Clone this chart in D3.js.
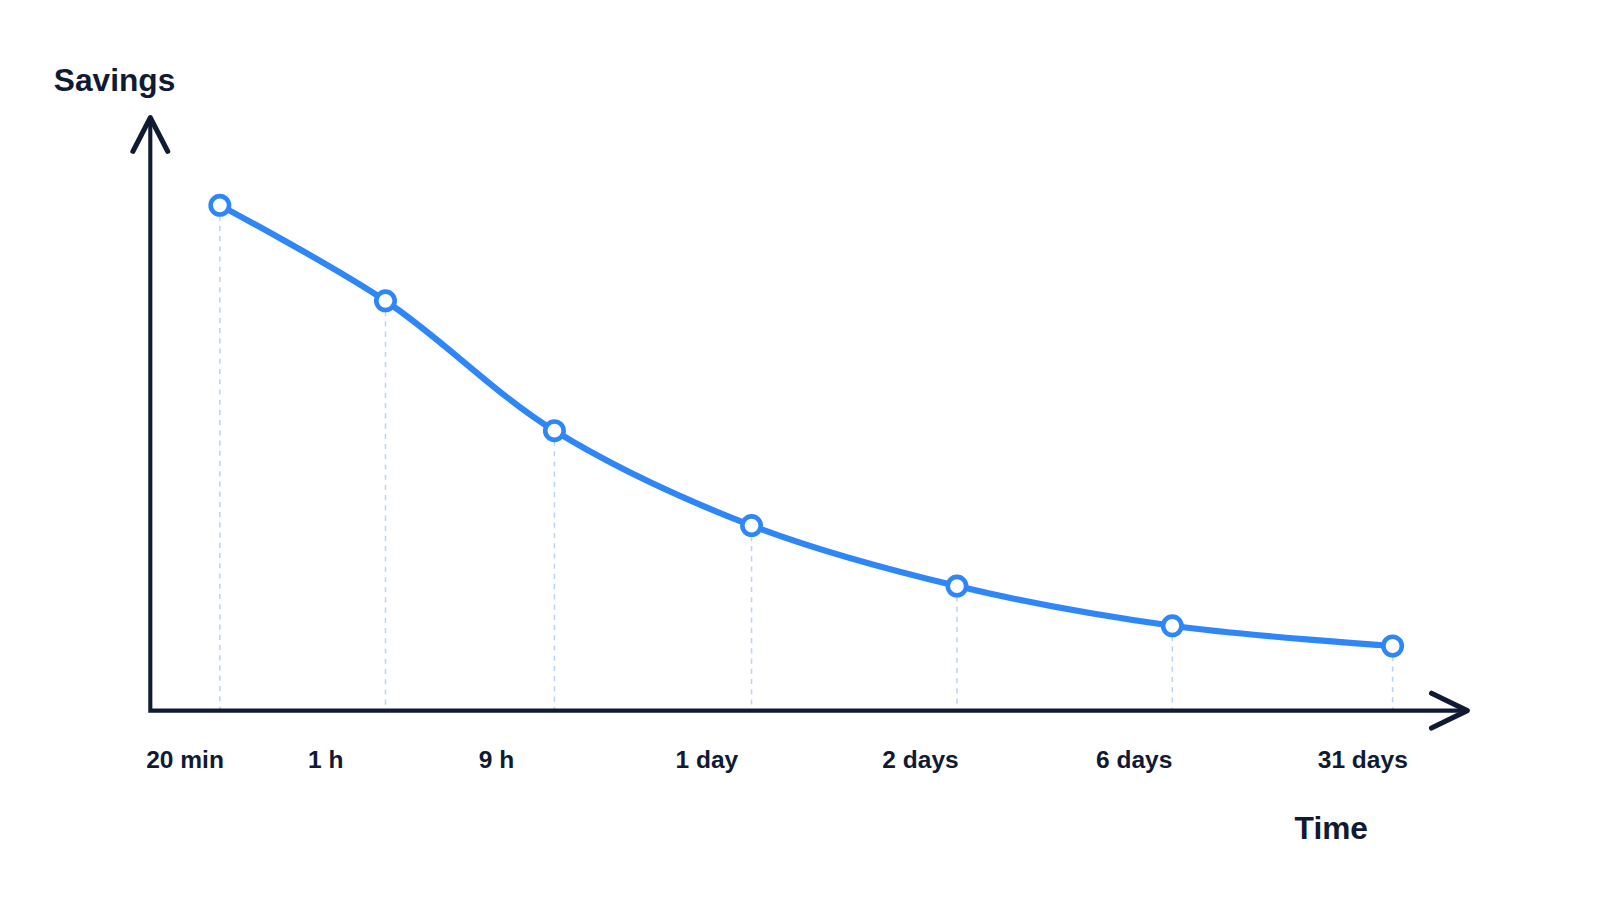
<!DOCTYPE html>
<html><head><meta charset="utf-8">
<script src="https://cdn.jsdelivr.net/npm/d3@7"></script>
<style>body{margin:0;background:#fff}svg{font-family:"Liberation Sans",Arial,sans-serif}</style>
</head><body><div id="chart"></div>
<script>
// time positions along the axis (relative units) and savings values
var timePos = [0, 1, 2.02, 3.21, 4.45, 5.75, 7.08];
var savings = [85.2, 69.1, 47.2, 31.2, 21.0, 14.3, 10.9];
var tickLabels = ["20 min", "1 h", "9 h", "1 day", "2 days", "6 days", "31 days"];
var labelPos = [-0.21, 0.64, 1.67, 2.94, 4.23, 5.52, 6.90];

var W = 1600, H = 900, blue = "#2f86f6", ink = "#111a33";
var svg = d3.select("#chart").append("svg").attr("width", W).attr("height", H);
var g = svg.append("g").attr("transform", "scale(1.0225)");
var x = d3.scaleLinear().domain([0, 1]).range([215, 377]);
var y = d3.scaleLinear().domain([0, 100]).range([695, 115]);
var pts = timePos.map(function (t, i) { return [t, savings[i]]; });

g.selectAll("line.guide").data(pts).enter().append("line")
  .attr("x1", d => x(d[0])).attr("x2", d => x(d[0]))
  .attr("y1", d => y(d[1])).attr("y2", y(0))
  .attr("stroke", "#b9d4f7").attr("stroke-width", 1.5).attr("stroke-dasharray", "5,5");

// axes
g.append("path").attr("d", "M147,115 L147,695 L1433,695")
  .attr("fill", "none").attr("stroke", ink).attr("stroke-width", 4);
g.append("path").attr("d", "M130,148 L147,115 L164,148")
  .attr("fill", "none").attr("stroke", ink).attr("stroke-width", 5).attr("stroke-linecap", "round").attr("stroke-linejoin", "round");
g.append("path").attr("d", "M1400,678 L1435,695 L1400,712")
  .attr("fill", "none").attr("stroke", ink).attr("stroke-width", 5).attr("stroke-linecap", "round").attr("stroke-linejoin", "round");

var line = d3.line().x(d => x(d[0])).y(d => y(d[1])).curve(d3.curveCatmullRom.alpha(0.5));
g.append("path").datum(pts).attr("d", line)
  .attr("fill", "none").attr("stroke", blue).attr("stroke-width", 6);

g.selectAll("circle").data(pts).enter().append("circle")
  .attr("cx", d => x(d[0])).attr("cy", d => y(d[1])).attr("r", 9)
  .attr("fill", "#fff").attr("stroke", blue).attr("stroke-width", 4.5);

g.selectAll("text.tick").data(tickLabels).enter().append("text")
  .attr("x", (d, i) => x(labelPos[i])).attr("y", 751)
  .attr("text-anchor", "middle").attr("font-size", 24).attr("font-weight", 700)
  .attr("fill", ink).text(d => d);

g.append("text").attr("x", 112).attr("y", 89).attr("text-anchor", "middle")
  .attr("font-size", 31).attr("font-weight", 700).attr("fill", ink).text("Savings");
g.append("text").attr("x", 1302).attr("y", 821).attr("text-anchor", "middle")
  .attr("font-size", 31).attr("font-weight", 700).attr("fill", ink).text("Time");
</script></body></html>
